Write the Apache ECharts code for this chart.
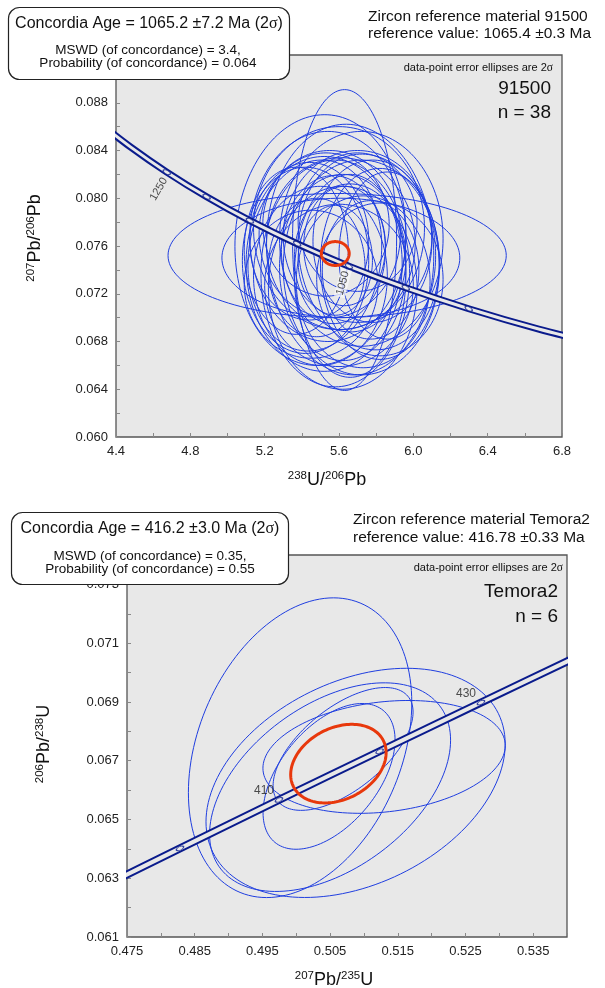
<!DOCTYPE html>
<html><head><meta charset="utf-8">
<script src="https://cdn.jsdelivr.net/npm/echarts@6/dist/echarts.min.js"></script>
<style>html,body{margin:0;padding:0;background:#fff}#c{width:605px;height:988px}</style>
</head><body><div id="c"></div>
<script>
// ---------- DATA ----------
// Tera-Wasserburg concordia (91500 panel): age (Ma), 238U/206Pb, 207Pb/206Pb
const twAges = [850, 900, 950, 1000, 1050, 1100, 1150, 1200, 1250, 1300, 1350];
const twX = [7.0950, 6.6743, 6.2980, 5.9593, 5.6530, 5.3746, 5.1204, 4.8875, 4.6733, 4.4756, 4.2926];
const twY = [0.067395, 0.069042, 0.070743, 0.072501, 0.074313, 0.076189, 0.078123, 0.080122, 0.082188, 0.084323, 0.086529];
const twMarkAges = [950, 1000, 1050, 1100, 1150, 1200, 1250];
const twLabelAges = [1250, 1050];

// Wetherill concordia (Temora2 panel): age (Ma), 207Pb/235U, 206Pb/238U
const wAges = [390, 400, 410, 420, 430, 440];
const wX = [0.46830, 0.48283, 0.49745, 0.51232, 0.52729, 0.54240];
const wY = [0.062366, 0.064016, 0.065666, 0.067322, 0.068979, 0.070638];
const wMarkAges = [400, 410, 420, 430];
const wLabelAges = [410, 430];

// 91500 data-point error ellipses: [centre x, centre y, half-width x, half-height y, rho]
const ell91500 = [
  [5.63, 0.0765, 0.28, 0.0126, 0], [5.59, 0.0752, 0.91, 0.0052, 0], [5.61, 0.0750, 0.64, 0.0050, 0],
  [5.50, 0.0765, 0.46, 0.0105, 0.05], [5.66, 0.0757, 0.45, 0.0105, -0.05], [5.52, 0.0745, 0.42, 0.0090, 0],
  [5.72, 0.0742, 0.42, 0.0090, 0], [5.58, 0.0737, 0.40, 0.0095, 0], [5.47, 0.0752, 0.36, 0.0080, 0.1],
  [5.76, 0.0755, 0.38, 0.0082, -0.1], [5.61, 0.0762, 0.40, 0.0072, 0], [5.42, 0.0748, 0.34, 0.0078, 0],
  [5.82, 0.0745, 0.32, 0.0080, 0], [5.55, 0.0770, 0.38, 0.0070, 0], [5.70, 0.0768, 0.40, 0.0072, 0],
  [5.62, 0.0742, 0.34, 0.0078, 0], [5.50, 0.0735, 0.36, 0.0075, 0], [5.73, 0.0730, 0.36, 0.0072, 0],
  [5.57, 0.0757, 0.28, 0.0062, 0], [5.66, 0.0750, 0.30, 0.0062, 0], [5.44, 0.0764, 0.32, 0.0066, 0],
  [5.78, 0.0764, 0.32, 0.0068, 0], [5.60, 0.0727, 0.40, 0.0068, 0], [5.53, 0.0778, 0.34, 0.0060, 0],
  [5.70, 0.0780, 0.32, 0.0058, 0], [5.37, 0.0756, 0.28, 0.0070, 0], [5.86, 0.0752, 0.26, 0.0070, 0],
  [5.63, 0.0760, 0.22, 0.0050, 0], [5.48, 0.0742, 0.26, 0.0058, 0], [5.77, 0.0740, 0.26, 0.0058, 0],
  [5.58, 0.0748, 0.20, 0.0046, 0], [5.66, 0.0735, 0.30, 0.0085, 0], [5.54, 0.0768, 0.42, 0.0088, 0],
  [5.72, 0.0766, 0.44, 0.0090, 0], [5.62, 0.0725, 0.40, 0.0085, 0], [5.45, 0.0728, 0.36, 0.0062, 0],
  [5.82, 0.0732, 0.34, 0.0064, 0], [5.60, 0.0775, 0.46, 0.0085, 0]
];
const conc91500 = [[5.58, 0.07537, 0.075, 0.0010, 0]];

// Temora2 data-point error ellipses
const ellTemora = [
  [0.50057, 0.067442, 0.0165, 0.00510, 0.30],
  [0.50877, 0.066245, 0.0221, 0.00390, 0.34],
  [0.50500, 0.066100, 0.0178, 0.00355, 0.45],
  [0.51298, 0.067129, 0.0179, 0.00192, 0.20],
  [0.50485, 0.066466, 0.00975, 0.00248, 0.50],
  [0.50692, 0.067400, 0.01034, 0.00209, 0.60]
];
const concTemora = [[0.50623, 0.06690, 0.00705, 0.001337, 0.28]];

// ---------- STYLE ----------
const F = '"Liberation Sans", Arial, Helvetica, sans-serif';
const SERIF = '"Liberation Serif", "DejaVu Serif", serif';
const BLUE = '#1f3ee0', NAVY = '#0a1b8c', RED = '#e8380c', BG = '#e8e8e8';

function pairs(xs, ys) { return xs.map((x, i) => [x, ys[i]]); }
function pick(ages, xs, ys, sel) { return sel.map(a => { const i = ages.indexOf(a); return [xs[i], ys[i], a]; }); }

function ellipseRender(color, width) {
  return function (params, api) {
    const cx = api.value(0), cy = api.value(1), sx = api.value(2), sy = api.value(3), r = api.value(4);
    const k = Math.sqrt(1 - r * r);
    const pts = [];
    for (let i = 0; i < 144; i++) {
      const t = i / 144 * 2 * Math.PI;
      pts.push(api.coord([cx + sx * Math.cos(t), cy + sy * (r * Math.cos(t) + k * Math.sin(t))]));
    }
    return { type: 'polygon', shape: { points: pts }, style: { fill: null, stroke: color, lineWidth: width }, silent: true };
  };
}
function ellSeries(data, xi, color, width, z) {
  return { type: 'custom', xAxisIndex: xi, yAxisIndex: xi, data: data, renderItem: ellipseRender(color, width),
    encode: { x: 0, y: 1 }, z: z, silent: true, clip: true, lineStyle: { width: 0.01 } };
}
// concordia band: drawn as one smooth polyline through all concordia points (two strokes)
function band(data, xi, w, gap) {
  return {
    type: 'custom', xAxisIndex: xi, yAxisIndex: xi, data: data, encode: { x: 0, y: 1 }, z: 5, silent: true,
    clip: true, lineStyle: { width: 0.01 },
    renderItem: function (params, api) {
      if (params.dataIndex !== 0) return null;
      const pts = data.map(d => api.coord(d));
      return { type: 'group', children: [
        { type: 'polyline', shape: { points: pts, smooth: 0.3 }, style: { fill: null, stroke: NAVY, lineWidth: w } },
        { type: 'polyline', shape: { points: pts, smooth: 0.3 }, style: { fill: null, stroke: BG, lineWidth: gap } }
      ] };
    }
  };
}
function marks(data, xi, rot) {
  return { type: 'scatter', xAxisIndex: xi, yAxisIndex: xi, data: data, symbol: 'circle', symbolSize: [8, 3.5],
    symbolRotate: rot, silent: true, itemStyle: { color: BG, borderColor: NAVY, borderWidth: 1 }, z: 7 };
}

function axisCommon(min, max, interval, dec) {
  return {
    type: 'value', min: min, max: max, interval: interval,
    axisLine: { show: false }, splitLine: { show: false },
    axisTick: { show: true, inside: true, length: 4, lineStyle: { color: '#888', width: 1 } },
    axisLabel: { color: '#222', fontSize: 13, fontFamily: F, showMinLabel: true, showMaxLabel: true,
      formatter: v => (Math.round((v - min) / interval) % 2 === 0 ? v.toFixed(dec) : '') }
  };
}
// label offset given in screen pixels, converted to the rotated label frame
function rotOffset(dx, dy, deg) {
  const t = deg * Math.PI / 180, c = Math.cos(t), s = Math.sin(t);
  return [dx * c - dy * s, dx * s + dy * c];
}

const topLbl = pick(twAges, twX, twY, twLabelAges);
const botLbl = pick(wAges, wX, wY, wLabelAges);

function txt(x, y, rich, base, align, extra) {
  return Object.assign({ type: 'text', x: x, y: y, z: 100, silent: true,
    style: { text: base, rich: rich, align: align, verticalAlign: 'middle', textAlign: align, textVerticalAlign: 'middle',
      font: '13px ' + F, fill: '#111' } }, extra || {});
}
function plain(x, y, text, size, align) {
  return { type: 'text', x: x, y: y, z: 100, silent: true,
    style: { text: text, font: size + 'px ' + F, fill: '#111', align: align, verticalAlign: 'middle', textAlign: align, textVerticalAlign: 'middle' } };
}
const boxRich = {
  a: { fontSize: 16, fontFamily: F, color: '#111' },
  s: { fontSize: 16, fontFamily: SERIF, color: '#111' },
  b: { fontSize: 13.5, fontFamily: F, color: '#111' }
};
const titleRich = {
  m: { fontSize: 18, fontFamily: F, color: '#111', lineHeight: 21 },
  sup: { fontSize: 11.5, fontFamily: F, color: '#111', lineHeight: 12, verticalAlign: 'top' }
};
const smallRich = {
  c: { fontSize: 11, fontFamily: F, color: '#111' },
  s: { fontSize: 11.5, fontFamily: SERIF, color: '#111' }
};

const graphic = [
  // top panel
  { type: 'rect', z: 99, silent: true, shape: { x: 8.5, y: 7.5, width: 281, height: 72, r: 11 }, style: { fill: '#fff', stroke: '#222', lineWidth: 1.2 } },
  txt(149, 24, boxRich, '{a|Concordia Age = 1065.2 ±7.2 Ma (2}{s|σ}{a|)}', 'center'),
  txt(148, 50, boxRich, '{b|MSWD (of concordance) = 3.4,}', 'center'),
  txt(148, 63, boxRich, '{b|Probability (of concordance) = 0.064}', 'center'),
  plain(368, 17, 'Zircon reference material 91500', 15.5, 'left'),
  plain(368, 34, 'reference value: 1065.4 ±0.3 Ma', 15.5, 'left'),
  txt(553, 68, smallRich, '{c|data-point error ellipses are 2}{s|σ}', 'right'),
  plain(551, 89, '91500', 19, 'right'),
  plain(551, 113, 'n = 38', 19, 'right'),
  txt(327, 480, titleRich, '{sup|238}{m|U/}{sup|206}{m|Pb}', 'center'),
  txt(35, 238, titleRich, '{sup|207}{m|Pb/}{sup|206}{m|Pb}', 'center', { rotation: Math.PI / 2 }),
  // bottom panel
  { type: 'rect', z: 99, silent: true, shape: { x: 11.5, y: 512.5, width: 277, height: 72, r: 11 }, style: { fill: '#fff', stroke: '#222', lineWidth: 1.2 } },
  txt(150, 529, boxRich, '{a|Concordia Age = 416.2 ±3.0 Ma (2}{s|σ}{a|)}', 'center'),
  txt(150, 556, boxRich, '{b|MSWD (of concordance) = 0.35,}', 'center'),
  txt(150, 569, boxRich, '{b|Probability (of concordance) = 0.55}', 'center'),
  plain(353, 520, 'Zircon reference material Temora2', 15.5, 'left'),
  plain(353, 538, 'reference value: 416.78 ±0.33 Ma', 15.5, 'left'),
  txt(563, 568, smallRich, '{c|data-point error ellipses are 2}{s|σ}', 'right'),
  plain(558, 592, 'Temora2', 19, 'right'),
  plain(558, 617, 'n = 6', 19, 'right'),
  txt(334, 980, titleRich, '{sup|207}{m|Pb/}{sup|235}{m|U}', 'center'),
  txt(44, 744, titleRich, '{sup|206}{m|Pb/}{sup|238}{m|U}', 'center', { rotation: Math.PI / 2 })
];

const option = {
  animation: false,
  backgroundColor: '#fff',
  grid: [
    { left: 116, top: 55, width: 446, height: 382, show: true, backgroundColor: BG, borderColor: '#555', borderWidth: 1.3 },
    { left: 127, top: 555, width: 440, height: 382, show: true, backgroundColor: BG, borderColor: '#555', borderWidth: 1.3 }
  ],
  xAxis: [
    Object.assign(axisCommon(4.4, 6.8, 0.2, 1), { gridIndex: 0 }),
    Object.assign(axisCommon(0.475, 0.540, 0.005, 3), { gridIndex: 1 })
  ],
  yAxis: [
    Object.assign(axisCommon(0.060, 0.092, 0.002, 3), { gridIndex: 0 }),
    Object.assign(axisCommon(0.061, 0.074, 0.001, 3), { gridIndex: 1 })
  ],
  graphic: graphic,
  series: [
    ellSeries(ell91500, 0, BLUE, 1, 3),
    band(pairs(twX, twY), 0, 7, 3),
    marks(pick(twAges, twX, twY, twMarkAges), 0, -28),
    ellSeries(conc91500, 0, RED, 3, 8),
    { type: 'scatter', xAxisIndex: 0, yAxisIndex: 0, silent: true, symbolSize: 0, z: 9,
      data: [
        { value: topLbl[0], label: { show: true, position: 'inside', formatter: p => String(p.value[2]), rotate: 60, offset: rotOffset(-8, 17, 60), fontSize: 11, fontFamily: F, color: '#222' } },
        { value: topLbl[1], label: { show: true, position: 'inside', formatter: p => String(p.value[2]), rotate: 75, offset: rotOffset(-6, 17, 75), fontSize: 11, fontFamily: F, color: '#222', backgroundColor: 'rgba(250,250,250,0.92)', padding: [0, 2] } }
      ] },
    ellSeries(ellTemora, 1, BLUE, 1, 3),
    band(pairs(wX, wY), 1, 8, 4),
    marks(pick(wAges, wX, wY, wMarkAges), 1, 26),
    ellSeries(concTemora, 1, RED, 3, 8),
    { type: 'scatter', xAxisIndex: 1, yAxisIndex: 1, silent: true, symbolSize: 0, z: 9,
      data: botLbl.map(v => ({ value: v, label: { show: true, position: 'inside', formatter: p => String(p.value[2]), offset: [-15, -9], fontSize: 12, fontFamily: F, color: '#222' } })) }
  ]
};
const chart = echarts.init(document.getElementById('c'), null, { renderer: 'canvas' });
chart.setOption(option);
</script>
</body></html>
